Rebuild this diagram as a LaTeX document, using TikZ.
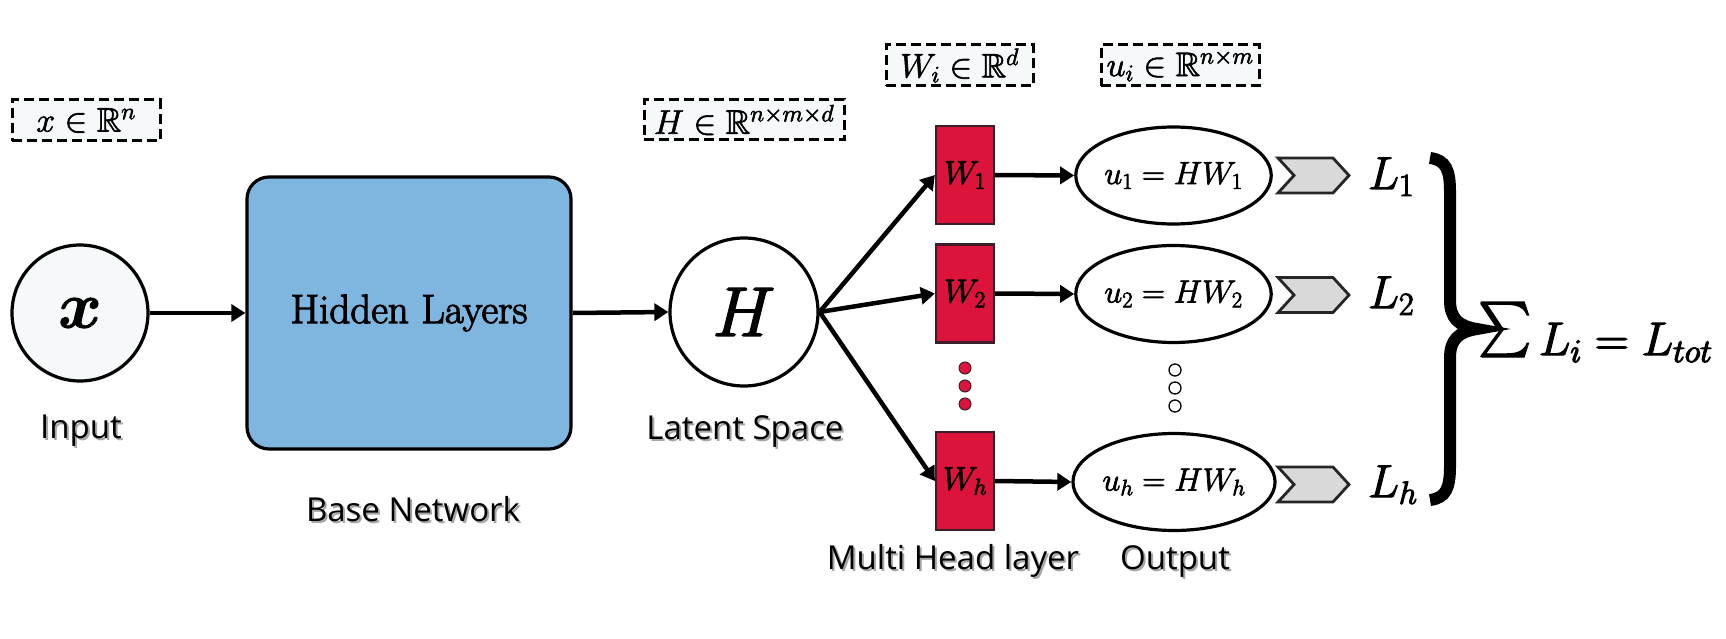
\RequirePackage{fix-cm}
\documentclass[tikz,border=0pt]{standalone}
\usepackage{amsmath,amssymb}
\usepackage{graphicx}
\usepackage{fontspec}
\setsansfont{Open Sans}
\usetikzlibrary{arrows.meta,shapes.geometric,shapes.symbols}
\definecolor{hblue}{RGB}{126,182,224}
\definecolor{boxbg}{RGB}{245,249,250}
\definecolor{wred}{RGB}{220,20,60}
\definecolor{wedge}{RGB}{60,30,40}
\definecolor{chev}{RGB}{217,217,217}
\newcommand\shtext[1]{\leavevmode\rlap{\kern2pt\raisebox{-2pt}{\textcolor{black!35}{#1}}}#1}
\newcommand\hv[2]{\special{pdf:literal direct 2 Tr #1 w}#2\special{pdf:literal direct 0 Tr}}
\newsavebox\mysumbox
\newcommand\mybigsum{\sbox\mysumbox{$\sum$}%
  \raisebox{-2pt}{\resizebox{53pt}{55pt}{\raisebox{\dp\mysumbox}{\usebox\mysumbox}}}}
\begin{document}
\begin{tikzpicture}[x=1pt,y=-1pt,
  dbox/.style={draw, dash pattern=on 10pt off 5pt, line width=3pt, fill=boxbg, inner sep=0pt,
    font=\fontsize{34}{40}\selectfont},
  lab/.style={font=\sffamily\fontsize{33}{40}\selectfont, inner sep=0pt},
  arr/.style={line width=4.5pt, -{Triangle[length=14pt,width=17pt]}},
  wbox/.style={draw=wedge, line width=2.2pt, fill=wred, minimum width=58pt, minimum height=98pt, inner sep=0pt,
    font=\fontsize{33}{38}\selectfont},
  uell/.style={draw, ellipse, line width=3.2pt, fill=white, minimum width=155pt, minimum height=97pt, inner sep=0pt,
    font=\fontsize{32}{36}\selectfont},
  chevnode/.style={draw=black!85, line width=2.8pt, fill=chev, shape=signal, signal from=west, signal to=east,
    signal pointer angle=95, minimum width=71pt, minimum height=35pt, inner sep=0pt},
  lnode/.style={anchor=base west, inner sep=0pt, font=\fontsize{46}{52}\selectfont},
  rdot/.style={circle, draw=wedge, line width=1pt, fill=wred, minimum size=12pt, inner sep=0pt},
  wdot/.style={circle, draw=black, line width=1.3pt, fill=white, minimum size=12pt, inner sep=0pt}
]
\useasboundingbox (0,0) rectangle (1726,639);

% dashed annotation boxes
\node[dbox, minimum width=148pt, minimum height=41pt] (xbox) at (86,120.5) {\hv{0.6}{$x \in \mathbb{R}^n$}};
\node[dbox, minimum width=200pt, minimum height=40pt] (hbox) at (744,120) {\hv{0.6}{$H \in \mathbb{R}^{n\times m\times d}$}};
\node[dbox, minimum width=147pt, minimum height=41pt] (wibox) at (959.5,65.5) {\hv{0.6}{$W_i \in \mathbb{R}^{d}$}};
\node[dbox, minimum width=158pt, minimum height=41pt] (uibox) at (1180,65.5) {\hv{0.6}{$u_i \in \mathbb{R}^{n\times m}$}};

% main nodes
\node[circle, draw, line width=3.2pt, fill=boxbg, minimum size=136pt, inner sep=0pt,
      font=\fontsize{66}{70}\selectfont] (xin) at (80,313) {\hv{0.8}{$\boldsymbol{x}$}};
\node[draw, line width=3.2pt, fill=hblue, rounded corners=22pt, minimum width=324pt, minimum height=272pt,
      inner sep=0pt, font=\fontsize{41}{46}\selectfont] (hidden) at (409,313) {\hv{1.1}{Hidden Layers}};
\node[circle, draw, line width=3.2pt, fill=white, minimum size=148pt, inner sep=0pt,
      font=\fontsize{70}{76}\selectfont] (H) at (744,312) {\hv{1.6}{$H$}};

\node[wbox] (W1) at (965,175) {\hv{0.8}{$W_1$}};
\node[wbox] (W2) at (965,293.5) {\hv{0.8}{$W_2$}};
\node[wbox] (Wh) at (965,481) {\hv{0.8}{$W_h$}};

\node[uell] (u1) at (1173.5,175.5) {\hv{0.7}{$u_1 = HW_1$}};
\node[uell] (u2) at (1173.5,294) {\hv{0.7}{$u_2 = HW_2$}};
\node[uell] (uh) at (1174,482) {\hv{0.7}{$u_h = HW_h$}};

% dots
\node[rdot] (rd1) at (965,368) {};
\node[rdot] (rd2) at (965,386) {};
\node[rdot] (rd3) at (965,404) {};
\node[wdot] (wd1) at (1175,370) {};
\node[wdot] (wd2) at (1175,388) {};
\node[wdot] (wd3) at (1175,406) {};

% chevrons and losses
\node[chevnode] (c1) at (1313.5,175.5) {};
\node[chevnode] (c2) at (1313.5,295) {};
\node[chevnode] (ch) at (1313.5,484.5) {};
\node[lnode] (L1) at (1368,189) {\hv{1}{$L_1$}};
\node[lnode] (L2) at (1368,308) {\hv{1}{$L_2$}};
\node[lnode] (Lh) at (1368,497) {\hv{1}{$L_h$}};

% brace
\draw[line width=12pt] (1430,158) .. controls (1446,160) and (1450,170) .. (1450,192)
  -- (1450,300) .. controls (1450,318) and (1458,326) .. (1477,329)
  .. controls (1458,332) and (1450,340) .. (1450,358)
  -- (1450,466) .. controls (1450,488) and (1446,498) .. (1430,500);
\node[anchor=base west, inner sep=0pt, font=\fontsize{47}{56}\selectfont] (sum) at (1478,355)
  {\hv{1.2}{\mybigsum$\,L_i = L_{tot}$}};

% labels
\node[lab] (linput) at (81,432) {\shtext{Input}};
\node[lab] (lbase) at (413,510) {\shtext{Base Network}};
\node[lab] (llat) at (745,433) {\shtext{Latent Space}};
\node[lab] (lmh) at (953,562) {\shtext{Multi Head layer}};
\node[lab] (lout) at (1175,562) {\shtext{Output}};

% connectors
\draw[arr] (xin.east) -- (hidden.west |- xin.east);
\draw[arr] (hidden.east) -- (H.west);
\draw[arr] (H.east) -- (W1.west);
\draw[arr] (H.east) -- (W2.west);
\draw[arr] (H.east) -- (Wh.west);
\draw[arr] (W1.east) -- (u1.west);
\draw[arr] (W2.east) -- (u2.west);
\draw[arr] (Wh.east) -- (uh.west);
\end{tikzpicture}
\end{document}
